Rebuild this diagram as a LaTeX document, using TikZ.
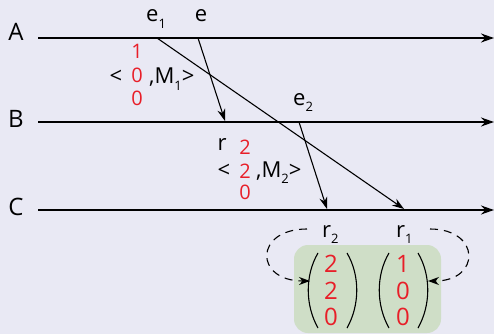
\documentclass[tikz,border=0pt]{standalone}
\usepackage{fontspec}
\setmainfont{Open Sans}
\usetikzlibrary{arrows.meta}
\definecolor{bg}{RGB}{233,233,244}
\definecolor{boxgreen}{RGB}{207,222,199}
\definecolor{vred}{RGB}{232,30,40}
\newcommand\sbs[1]{\raisebox{-0.3em}{\fontsize{13}{13}\selectfont #1}}
\begin{document}
\begin{tikzpicture}[x=1pt,y=-1pt,
 proc/.style={line width=1.8pt,-{Stealth[length=13pt,width=9pt]}},
 msg/.style={line width=1.1pt,-{Stealth[length=12pt,width=8pt]}},
 lbl/.style={inner sep=0pt,anchor=base,font=\fontsize{22}{22}\selectfont},
 plbl/.style={inner sep=0pt,anchor=base,font=\fontsize{24}{24}\selectfont},
 dig/.style={inner sep=0pt,anchor=base,text=vred,font=\fontsize{20}{20}\selectfont},
 vdig/.style={inner sep=0pt,anchor=base,text=vred,font=\fontsize{24}{24}\selectfont},
 paren/.style={line width=1.1pt},
 loopar/.style={line width=1.1pt,dash pattern=on 8pt off 6pt,-{Stealth[length=11pt,width=8pt]}}]
\fill[bg] (0,0) rectangle (494,334);
\useasboundingbox (0,0) rectangle (494,334);
\clip (0,0) rectangle (494,334);
% process lines
\coordinate (As) at (38,38); \coordinate (Ae) at (494,38);
\coordinate (Bs) at (38,122); \coordinate (Be) at (494,122);
\coordinate (Cs) at (38,210); \coordinate (Ce) at (494,210);
\draw[proc] (As) -- (Ae);
\draw[proc] (Bs) -- (Be);
\draw[proc] (Cs) -- (Ce);
\node[plbl] (lA) at (16,41) {A};
\node[plbl] (lB) at (16,127) {B};
\node[plbl] (lC) at (16,215) {C};
% events
\coordinate (e1) at (157,38);
\coordinate (e) at (198,38);
\coordinate (r) at (225,121);
\coordinate (e2) at (299,122);
\coordinate (r2) at (327,209);
\coordinate (r1) at (404,209);
\draw[msg] (e1) -- (r1);
\draw[msg] (e) -- (r);
\draw[msg] (e2) -- (r2);
% labels
\node[lbl,anchor=base west] (le1) at (146,22) {e\sbs{1}};
\node[lbl] (le) at (201,22) {e};
\node[lbl,anchor=base west] (le2) at (293,105) {e\sbs{2}};
\node[lbl] (lr) at (222,150) {r};
\node[lbl,anchor=base west] (lr2) at (322,237) {r\sbs{2}};
\node[lbl,anchor=base west] (lr1) at (396,237) {r\sbs{1}};
% message M1
\node[lbl] (lt1) at (116,84) {<};
\node[dig] (d11) at (137,59) {1};
\node[dig] (d12) at (137,83) {0};
\node[dig] (d13) at (137,106) {0};
\node[lbl,anchor=base west] (m1) at (149,84) {,M\sbs{1}>};
% message M2
\node[lbl] (lt2) at (224,177) {<};
\node[dig] (d21) at (245,154) {2};
\node[dig] (d22) at (245,178) {2};
\node[dig] (d23) at (245,199) {0};
\node[lbl,anchor=base west] (m2) at (256,177) {,M\sbs{2}>};
% vector box
\fill[boxgreen,rounded corners=14pt] (294,245) rectangle (441,333);
\node[vdig] (v21) at (331,272) {2};
\node[vdig] (v22) at (331,299) {2};
\node[vdig] (v23) at (331,325) {0};
\node[vdig] (v11) at (403,272) {1};
\node[vdig] (v12) at (403,299) {0};
\node[vdig] (v13) at (403,325) {0};
\draw[paren] (318,253) .. controls (305,275) and (305,305) .. (318,328);
\draw[paren] (347,253) .. controls (360,275) and (360,305) .. (347,328);
\draw[paren] (389,253) .. controls (376,275) and (376,305) .. (389,328);
\draw[paren] (418,253) .. controls (431,275) and (431,305) .. (418,328);
% dashed loops
\coordinate (L0) at (307,229); \coordinate (L1) at (310,281);
\coordinate (R0) at (430,229); \coordinate (R1) at (428,281);
\draw[loopar] (L0) .. controls (254,229) and (254,281) .. (L1);
\draw[loopar] (R0) .. controls (481,229) and (481,281) .. (R1);
\end{tikzpicture}
\end{document}
